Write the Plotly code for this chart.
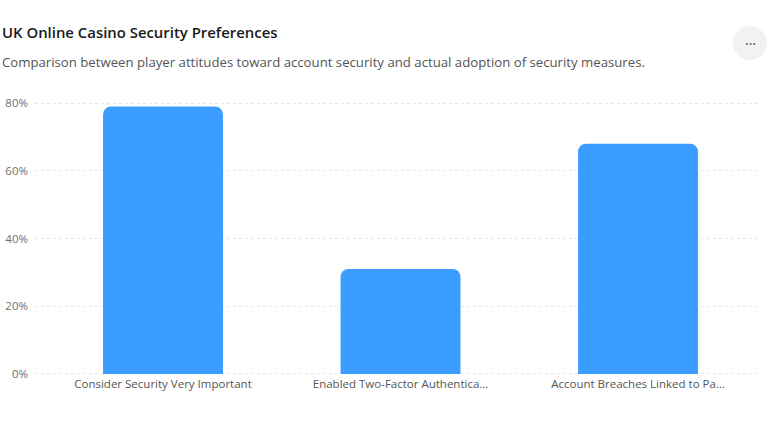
import plotly.graph_objects as go

categories = ["Consider Security Very Important",
              "Enabled Two-Factor Authentication",
              "Account Breaches Linked to Password Reuse"]
tick_labels = ["Consider Security Very Important",
               "Enabled Two-Factor Authentica…",
               "Account Breaches Linked to Pa…"]
values = [79, 31, 68]
y_ticks = [0, 20, 40, 60, 80]
y_tick_labels = ["0%", "20%", "40%", "60%", "80%"]

FONT = "Open Sans, Noto Sans, sans-serif"

H = 432; W = 768
pt, pb, pl, pr = 102, 57, 35, 6
ph = H - pt - pb; pw = W - pl - pr
def px_to_paper_y(py):
    return (H - pb - py) / ph
def px_to_paper_x(px):
    return (px - pl) / pw

fig = go.Figure()
fig.add_trace(go.Bar(
    x=list(range(len(categories))),
    y=values,
    width=0.505,
    marker=dict(color="#3A9DFF", cornerradius=8, line=dict(width=0)),
    hovertext=categories,
))

fig.update_layout(
    width=W, height=H,
    margin=dict(l=pl, r=pr, t=pt, b=pb),
    paper_bgcolor="white", plot_bgcolor="white",
    showlegend=False,
    font=dict(family=FONT, color="#666666", size=12),
    xaxis=dict(
        range=[-0.539, 2.522],
        tickmode="array", tickvals=list(range(len(categories))), ticktext=tick_labels,
        showgrid=False, zeroline=False, showline=False, ticks="",
        tickfont=dict(size=11.5, color="#555555"),
    ),
    yaxis=dict(
        range=[-0.3, 80.3], tickmode="array", tickvals=y_ticks, ticktext=y_tick_labels,
        showgrid=True, gridcolor="#e8e8e8", griddash="3px,3px", gridwidth=1,
        zeroline=False, showline=False, ticks="", ticklabelstandoff=6,
        tickfont=dict(size=11.5, color="#707070"),
    ),
)

fig.add_annotation(text="UK Online Casino Security Preferences",
                   x=px_to_paper_x(0), y=px_to_paper_y(32), xref="paper", yref="paper",
                   xanchor="left", yanchor="middle", showarrow=False,
                   font=dict(family=FONT, size=14.9, color="#1a1a1a", weight=600))
fig.add_annotation(text="Comparison between player attitudes toward account security and actual adoption of security measures.",
                   x=px_to_paper_x(0), y=px_to_paper_y(62), xref="paper", yref="paper",
                   xanchor="left", yanchor="middle", showarrow=False,
                   font=dict(family=FONT, size=13.2, color="#555555"))
# menu button
fig.add_shape(type="circle", xref="paper", yref="paper",
              x0=px_to_paper_x(733), x1=px_to_paper_x(767),
              y0=px_to_paper_y(60), y1=px_to_paper_y(26),
              fillcolor="#f2f2f2", line=dict(width=0), layer="below")
fig.add_annotation(text="···", x=px_to_paper_x(750), y=px_to_paper_y(43), xref="paper", yref="paper",
                   xanchor="center", yanchor="middle", showarrow=False,
                   font=dict(family=FONT, size=14, color="#444444"))

fig.write_html("out.html")
